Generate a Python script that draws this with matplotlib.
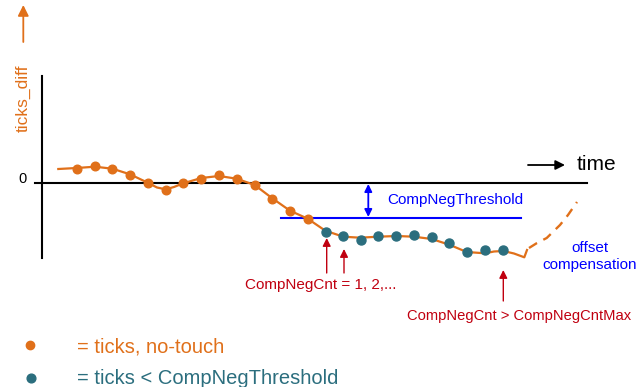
import matplotlib
matplotlib.use('Agg')
import matplotlib.pyplot as plt

plt.rcParams['font.family'] = ['Liberation Sans', 'DejaVu Sans']

ORANGE = '#E0701A'
TEAL = '#2B6E7E'
RED = '#C00010'
BLUE = '#0000FF'

# sample points (x, y) in picture units, y grows downward
orange_x = [76.7, 95, 112.3, 130, 147.7, 165.7, 183.3, 201.3, 219, 236.7, 254.7, 272.3, 290, 307.7]
orange_y = [169, 165.7, 169.3, 175.3, 183, 190.3, 183, 178.7, 175.3, 179, 185.3, 198.7, 211.3, 218.7]
teal_x = [325.5, 343.3, 360.7, 378.3, 396, 414, 431.7, 449.3, 467.3, 485, 503.3]
teal_y = [232, 235.7, 240.3, 235.7, 235.7, 235.3, 236.7, 243.3, 251.7, 250.3, 250]

# the smooth trend line through the samples
curve_x = [58.3, 76.7, 95, 112.3, 130, 147.7, 157, 165.7, 174, 183.3, 201.3, 219, 236.7, 254.7,
           272.3, 290, 307.7, 325.3, 343.3, 360, 378.3, 396.7, 414, 431.7, 449.3, 466.7,
           485, 494, 503.3, 514, 524.3, 527]
curve_y = [169, 168, 166.7, 168.7, 174.3, 182.7, 187.5, 189.3, 187, 183.3, 178, 176, 178.7, 185,
           198.3, 210.7, 218.7, 230.7, 236.7, 237.7, 236.7, 236, 236.7, 239, 244.7, 252,
           253.3, 251.5, 251, 253.5, 257.3, 250]
dash_x = [529, 537, 546.7, 560, 568, 577]
dash_y = [248, 243, 238, 225, 215, 202]

threshold_y = 218
zero_y = 182.7

fig = plt.figure(figsize=(6.36, 3.87), dpi=100)
ax = fig.add_axes([0, 0, 1, 1])
ax.set_xlim(0, 636)
ax.set_ylim(387, 0)
ax.axis('off')

# axes of the sketch
ax.plot([42.3, 42.3], [76, 258], color='black', lw=1.5)
ax.plot([35, 586.7], [zero_y, zero_y], color='black', lw=1.5)
ax.text(22.5, 179, '0', fontsize=10.5, ha='center', va='center')

ax.annotate('', xy=(23.3, 5), xytext=(23.3, 42),
            arrowprops=dict(arrowstyle='-|>', color=ORANGE, lw=1.3,
                            mutation_scale=16, shrinkA=0, shrinkB=0))
ax.text(23, 98, 'ticks_diff', color=ORANGE, fontsize=12.5, rotation=90,
        ha='center', va='center')

ax.annotate('', xy=(565, 165), xytext=(528, 165),
            arrowprops=dict(arrowstyle='-|>', color='black', lw=1.3,
                            mutation_scale=14, shrinkA=0, shrinkB=0))
ax.text(577, 164, 'time', fontsize=15, ha='left', va='center')

# threshold
ax.plot([280.7, 520.7], [threshold_y, threshold_y], color=BLUE, lw=1.5)
ax.annotate('', xy=(368.3, 184), xytext=(368.3, 217),
            arrowprops=dict(arrowstyle='<|-|>', color=BLUE, lw=1.3,
                            mutation_scale=11, shrinkA=0, shrinkB=0))
ax.text(387, 200, 'CompNegThreshold', color=BLUE, fontsize=11, ha='left', va='center')

# trend line and samples
ax.plot(curve_x, curve_y, color=ORANGE, lw=1.6, solid_joinstyle='round', zorder=2)
ax.plot(dash_x, dash_y, color=ORANGE, lw=1.7, ls=(0, (4, 3)), zorder=2)
ax.plot(orange_x, orange_y, 'o', color=ORANGE, ms=6.2, zorder=3)
ax.plot(teal_x, teal_y, 'o', color=TEAL, ms=6.5, zorder=3)

ax.text(590, 248, 'offset', color=BLUE, fontsize=11, ha='center', va='center')
ax.text(590, 265, 'compensation', color=BLUE, fontsize=11, ha='center', va='center')

# counters
for x, tip in [(326.7, 238), (344, 249), (503.3, 270)]:
    tail = 301 if x > 500 else 273
    ax.annotate('', xy=(x, tip), xytext=(x, tail),
                arrowprops=dict(arrowstyle='-|>', color=RED, lw=1.0,
                                mutation_scale=12, shrinkA=0, shrinkB=0))
ax.text(245, 285, 'CompNegCnt = 1, 2,...', color=RED, fontsize=11, ha='left', va='center')
ax.text(407, 316, 'CompNegCnt > CompNegCntMax', color=RED, fontsize=10.6, ha='left', va='center')

# legend
ax.plot([29.5], [345], 'o', color=ORANGE, ms=6)
ax.plot([31], [378], 'o', color=TEAL, ms=6.3)
ax.text(77, 347, '= ticks, no-touch', color=ORANGE, fontsize=14.5, ha='left', va='center')
ax.text(77, 378, '= ticks < CompNegThreshold', color=TEAL, fontsize=14.5, ha='left', va='center')

fig.savefig('out.png', dpi=100)
